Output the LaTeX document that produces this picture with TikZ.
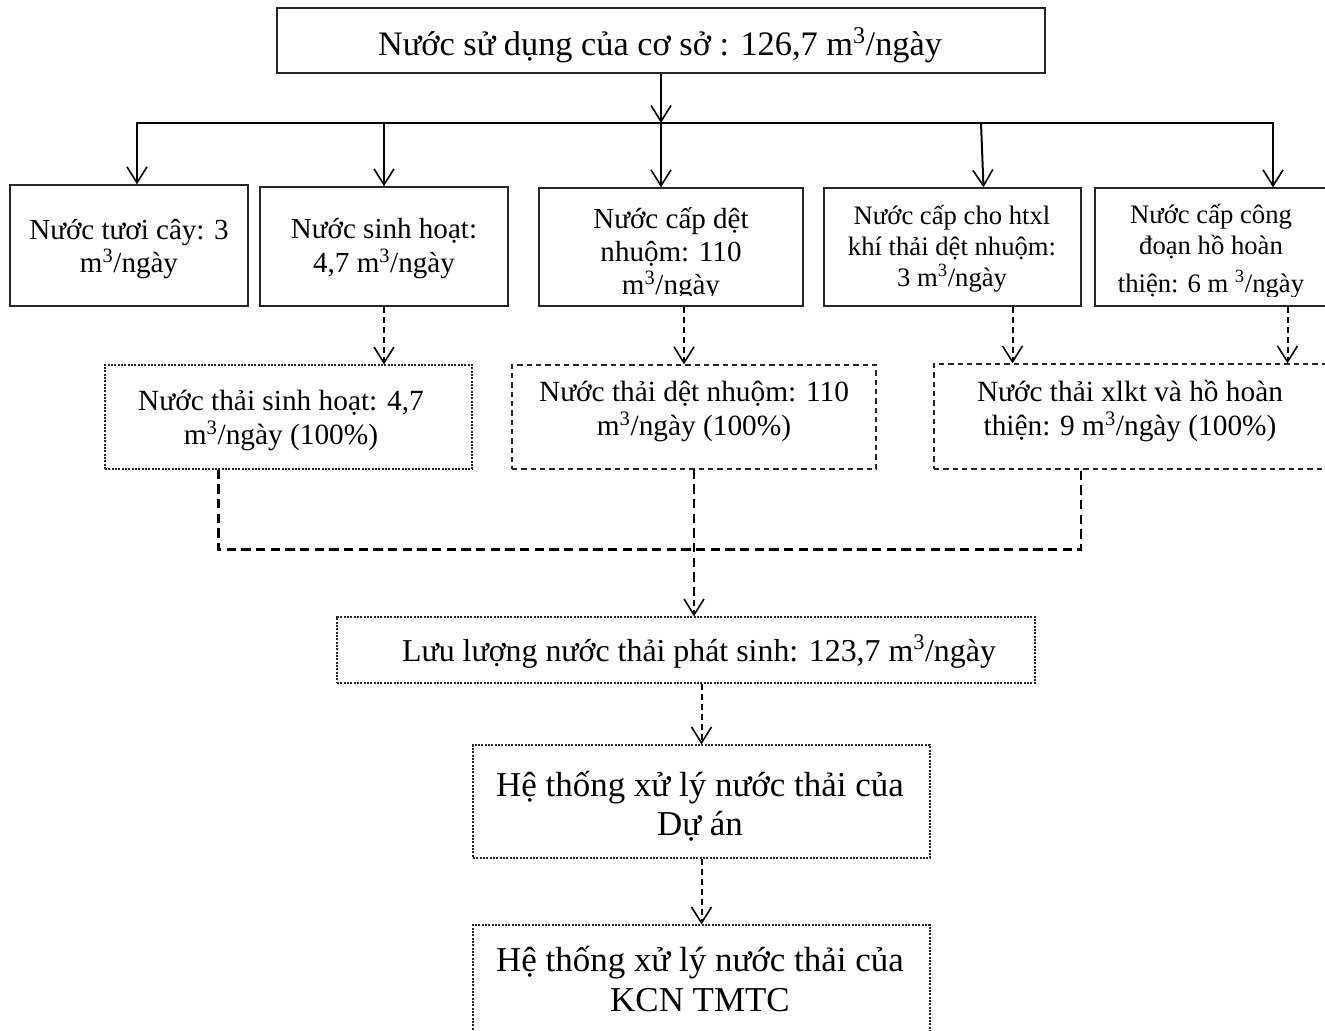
\documentclass[tikz,border=0pt]{standalone}
\usepackage{fontspec}
\setmainfont{Liberation Serif}
\usetikzlibrary{arrows.meta,calc}
\begin{document}
\begin{tikzpicture}[x=0.75pt,y=-0.75pt,
  solidbox/.style={draw=black!85,line width=1pt,inner sep=0pt},
  dotbox/.style={draw=black!85,line width=0.8pt,dash pattern=on 1.6pt off 0.9pt,inner sep=0pt},
  dashbox/.style={draw=black!85,line width=0.9pt,dash pattern=on 4pt off 3pt,inner sep=0pt},
  label/.style={inner sep=0pt,align=center},
  tip/.style={-{Straight Barb[length=12pt,width=15pt,line width=1.2pt,sep=0pt]}},
  flow/.style={line width=1.5pt,tip},
  waste/.style={line width=1.5pt,dash pattern=on 5pt off 2.5pt,tip},
  wastelong/.style={line width=1.8pt,dash pattern=on 7pt off 4pt},
  fbig/.style={font=\fontsize{25.75pt}{30pt}\selectfont},
  fmid/.style={font=\fontsize{21.8pt}{25pt}\selectfont},
  fsmall/.style={font=\fontsize{20pt}{23.25pt}\selectfont},
  fwaste/.style={font=\fontsize{22pt}{25.5pt}\selectfont},
  ftotal/.style={font=\fontsize{23.9pt}{28pt}\selectfont},
  fhuge/.style={font=\fontsize{26.2pt}{29.5pt}\selectfont}]
\useasboundingbox (0,0) rectangle (1325,1031);

% supply box
\node[solidbox,minimum width=576pt,minimum height=48.75pt] (top) at (661,40.5) {};
\node[label,fbig] (ttop) at (660,45) {Nước sử dụng của cơ sở : 126,7 m\textsuperscript{3}/ngày};

% water uses
\node[solidbox,minimum width=178.5pt,minimum height=90.75pt] (b1) at (129,245.5) {};
\node[solidbox,minimum width=186pt,minimum height=89.25pt] (b2) at (384,246.5) {};
\node[solidbox,minimum width=198pt,minimum height=88.5pt] (b3) at (671,247) {};
\node[solidbox,minimum width=192.75pt,minimum height=88.5pt] (b4) at (952.5,247) {};
\node[solidbox,minimum width=176.25pt,minimum height=88.5pt] (b5) at (1212.5,247) {};

\node[label,fmid] (t1) at (129,249) {Nước tươi cây: 3\\m\textsuperscript{3}/ngày};
\node[label,fmid] (t2) at (384,248.5) {Nước sinh hoạt:\\4,7 m\textsuperscript{3}/ngày};
\begin{scope}
  \clip (540,189) rectangle (802,295);
  \node[label,fmid] (t3) at (671,254) {Nước cấp dệt\\nhuộm: 110\\m\textsuperscript{3}/ngày};
\end{scope}
\node[label,fsmall] (t4) at (952,249) {Nước cấp cho htxl\\khí thải dệt nhuộm:\\3 m\textsuperscript{3}/ngày};
\begin{scope}
  \clip (1096,189) rectangle (1325,296);
  \node[label,fsmall] (t5) at (1211,251) {Nước cấp công\\đoạn hồ hoàn\\[5pt]thiện: 6 m \textsuperscript{3}/ngày};
\end{scope}

% waste water
\node[dotbox,minimum width=275.25pt,minimum height=78pt] (c1) at (288.5,417) {};
\node[dashbox,minimum width=273pt,minimum height=78pt] (c2) at (694,417) {};
\node[dashbox,minimum width=297pt,minimum height=78.75pt] (c3) at (1132,416.5) {};
\node[label,fwaste] (u1) at (281,420) {Nước thải sinh hoạt: 4,7\\m\textsuperscript{3}/ngày (100\%)};
\node[label,fwaste] (u2) at (694,411) {Nước thải dệt nhuộm: 110\\m\textsuperscript{3}/ngày (100\%)};
\node[label,fwaste] (u3) at (1130,411) {Nước thải xlkt và hồ hoàn\\thiện: 9 m\textsuperscript{3}/ngày (100\%)};

% total flow and treatment
\node[dotbox,minimum width=523.5pt,minimum height=49.5pt] (d) at (686,650) {};
\node[label,ftotal] (td) at (699,652) {Lưu lượng nước thải phát sinh: 123,7 m\textsuperscript{3}/ngày};
\node[dotbox,minimum width=342.75pt,minimum height=84.75pt] (e) at (701.5,801.5) {};
\node[label,fhuge] (te) at (700,806) {Hệ thống xử lý nước thải của\\Dự án};
\node[dotbox,minimum width=342.75pt,minimum height=112.5pt] (f) at (701.5,1000) {};
\node[label,fhuge] (tf) at (700,979) {Hệ thống xử lý nước thải của\\KCN TMTC};

% supply connectors
\coordinate (busL) at (137,123);
\coordinate (busR) at (1273,123);
\coordinate (bus4) at (981,123);
\draw[line width=1.5pt,line cap=rect] (busL) -- (busR);
\draw[flow] (top.south) -- (top.south |- busL);
\draw[flow] (busL) -- (busL |- b1.north);
\draw[flow] (b2.north |- busL) -- (b2.north);
\draw[flow] (top.south |- busL) -- (top.south |- b3.north);
\draw[flow] (bus4) -- ($(b4.north)+(31,0)$);
\draw[flow] (busR) -- (busR |- b5.north);

% waste connectors
\draw[waste] (b2.south) -- (b2.south |- c1.north);
\draw[waste] ($(b3.south)+(13,0)$) -- ($(b3.south |- c2.north)+(13,0)$);
\draw[waste] ($(b4.south)+(60,0)$) -- ($(b4.south |- c3.north)+(60,0)$);
\draw[waste] ($(b5.south)+(75,0)$) -- ($(b5.south |- c3.north)+(75,0)$);

\coordinate (j1) at ($(c1.south)+(-70,0)$);
\coordinate (j3) at ($(c3.south)+(-51,0)$);
\draw[wastelong] (j1) -- ++(0,80) -| (j3);
\draw[wastelong] (c2.south) -- ($(c2.south)+(0,130)$);
\draw[waste] ($(c2.south)+(0,130)$) -- (c2.south |- d.north);
\draw[waste] (e.north |- d.south) -- (e.north);
\draw[waste] (e.south) -- (f.north);
\end{tikzpicture}
\end{document}
